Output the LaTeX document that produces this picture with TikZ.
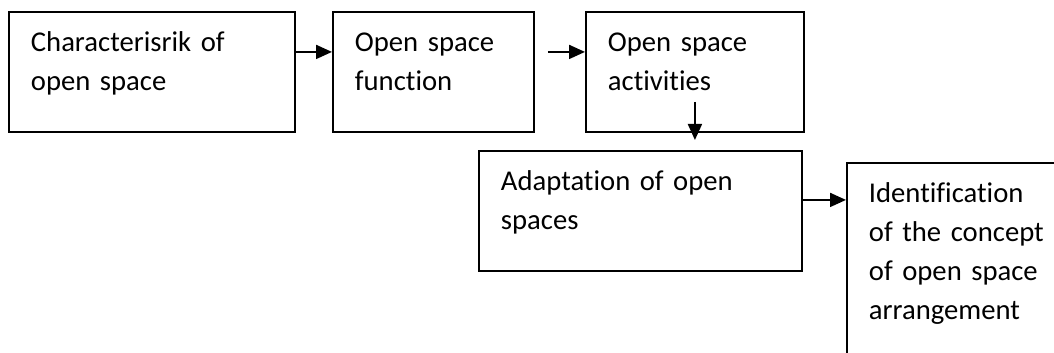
\documentclass[tikz,border=0pt]{standalone}
\usepackage{fontspec}
\setmainfont{Carlito}[Ligatures=NoCommon, WordSpace=0.85]
\usetikzlibrary{arrows.meta}

\begin{document}
\begin{tikzpicture}[x=0.75pt, y=-0.75pt, >={Triangle[length=12pt, width=10.5pt]},
    box/.style={draw, line width=1.4pt, anchor=north west, align=left,
        inner xsep=16.5pt, inner ysep=0pt, text height=30pt,
        font=\fontsize{21.5pt}{29.25pt}\selectfont},
    flow/.style={->, line width=1.4pt}]

    % Page frame
    \path[use as bounding box, clip] (0,0) rectangle (1054,353);

    % Top row
    \node[box, text width=181.5pt, text depth=60pt] (charac) at (8,11) {Characterisrik of\\open space};
    \node[box, text width=117.75pt, text depth=60pt] (func) at (332,11) {Open space\\function};
    \node[box, text width=130.5pt, text depth=60pt] (activ) at (585,11) {Open space\\activities};

    % Lower row
    \node[box, text width=209.25pt, text depth=60pt] (adapt) at (478,150) {Adaptation of open\\spaces};
    \node[box, text width=192pt, text depth=157.5pt] (ident) at (846,162) {Identification\\of the concept\\of open space\\arrangement};

    % Arrows
    \draw[flow] ([yshift=15pt]charac.east) -- ([yshift=15pt]func.west);
    \draw[flow, shorten <=9.75pt] ([yshift=15pt]func.east) -- ([yshift=15pt]activ.west);
    \draw[flow, shorten >=7.5pt] ([yshift=23.25pt]activ.south) -- (activ.south |- adapt.north);
    \draw[flow] ([yshift=8.25pt]adapt.east) -- ([yshift=8.25pt]adapt.east -| ident.west);

\end{tikzpicture}
\end{document}
